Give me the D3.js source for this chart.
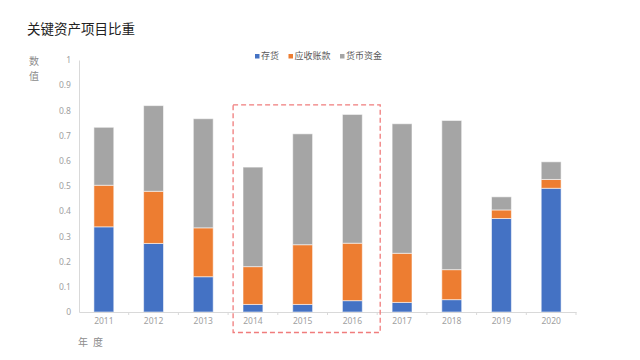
<!DOCTYPE html>
<html><head><meta charset="utf-8">
<script src="https://cdn.jsdelivr.net/npm/d3@7/dist/d3.min.js"></script>
<style>body{margin:0;background:#fff;}svg{display:block;font-family:"Noto Sans CJK SC","Noto Sans",sans-serif;}</style>
</head><body><svg id="c" width="640" height="360"></svg>
<script>
const years = ["2011","2012","2013","2014","2015","2016","2017","2018","2019","2020"];
const seriesNames = ["存货","应收账款","货币资金"];
const inventory   = [0.338,0.272,0.140,0.030,0.030,0.045,0.038,0.049,0.371,0.491];
const receivables = [0.165,0.207,0.194,0.150,0.237,0.228,0.195,0.119,0.034,0.035];
const cash        = [0.230,0.340,0.433,0.395,0.440,0.511,0.514,0.592,0.052,0.070];
const yTicks = [0,0.1,0.2,0.3,0.4,0.5,0.6,0.7,0.8,0.9,1];
const highlight = ["2014","2016"];
const colors = ["#4472C4","#ED7D31","#A5A5A5"];

const svg = d3.select("#c");
const x = d3.scaleBand().domain(years).range([79,576]).paddingInner(0.6).paddingOuter(0.3);
const xb = d3.scaleBand().domain(years).range([79,576]);
const y = d3.scaleLinear().domain([0,1]).range([312,60]);

const table = years.map((yr,i)=>({year:yr,"存货":inventory[i],"应收账款":receivables[i],"货币资金":cash[i]}));
const stacked = d3.stack().keys(seriesNames)(table);

// title
svg.append("text").attr("x",27).attr("y",33.5).attr("font-size",13.5).attr("fill","#222").text("关键资产项目比重");

// legend
const lg = svg.append("g");
let lx = 255;
seriesNames.forEach((n,i)=>{
  lg.append("rect").attr("x",lx).attr("y",54).attr("width",4.5).attr("height",4.5).attr("fill",colors[i]);
  lg.append("text").attr("x",lx+6).attr("y",59).attr("font-size",9).attr("fill","#595959").text(n);
  lx += 6 + n.length*9 + 9.5;
});

// y axis
const ya = svg.append("g").attr("transform","translate(79,0)").call(d3.axisLeft(y).tickValues(yTicks).tickSize(0).tickPadding(8).tickFormat(d=>d3.format("")(d)));
ya.select(".domain").attr("stroke","#d9d9d9");
ya.selectAll("text").attr("font-size",8.5).attr("fill","#a0a0a0").attr("font-family","'Noto Sans',sans-serif");

// bars
svg.append("g").selectAll("g").data(stacked).join("g").attr("fill",(d,i)=>colors[i])
  .selectAll("rect").data(d=>d).join("rect")
  .attr("x",d=>x(d.data.year)).attr("width",x.bandwidth())
  .attr("y",d=>y(d[1])).attr("height",d=>y(d[0])-y(d[1]))
  .attr("stroke","rgba(255,255,255,0.55)").attr("stroke-width",1);

// x axis
const xa = svg.append("g").attr("transform","translate(0,312)").call(d3.axisBottom(xb).tickSize(0).tickPadding(6));
xa.select(".domain").attr("stroke","#d9d9d9");
xa.selectAll("text").attr("font-size",8.5).attr("fill","#a0a0a0").attr("font-family","'Noto Sans',sans-serif");
svg.append("g").selectAll("line").data(years.slice(1).concat(["end"])).join("line")
  .attr("x1",(d,i)=>79+xb.step()*(i+1)).attr("x2",(d,i)=>79+xb.step()*(i+1))
  .attr("y1",312).attr("y2",315).attr("stroke","#d9d9d9");

// axis titles
svg.append("text").attr("x",29).attr("y",65).attr("font-size",10).attr("fill","#8c8c8c").text("数");
svg.append("text").attr("x",29).attr("y",80).attr("font-size",10).attr("fill","#8c8c8c").text("值");
svg.append("text").attr("x",78).attr("y",346).attr("font-size",10).attr("fill","#8c8c8c").text("年");
svg.append("text").attr("x",93).attr("y",346).attr("font-size",10).attr("fill","#8c8c8c").text("度");

// highlight box
const hx0 = xb(highlight[0]) + 5;
const hx1 = xb(highlight[1]) + xb.bandwidth() + 3;
svg.append("rect").attr("x",hx0).attr("y",y(0.822)).attr("width",hx1-hx0).attr("height",332.5-y(0.822))
  .attr("fill","none").attr("stroke","#F07C7C").attr("stroke-width",1.3).attr("stroke-dasharray","5,3");
</script></body></html>
